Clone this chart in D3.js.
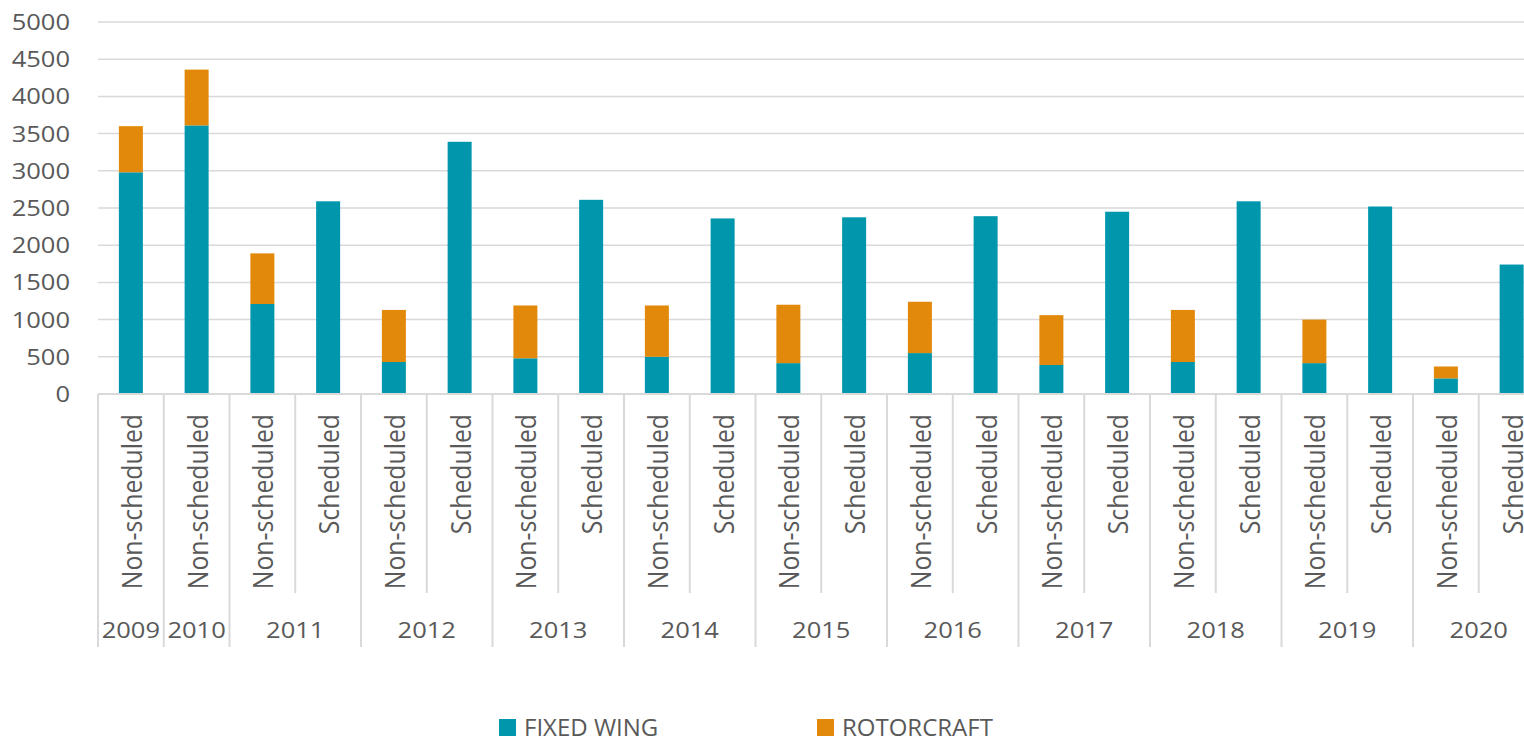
<!DOCTYPE html>
<html>
<head>
<meta charset="utf-8">
<script src="https://cdn.jsdelivr.net/npm/d3@7"></script>
<style>
  body { margin: 0; background: #fff; }
  svg { display: block; }
  text { font-family: "Open Sans", sans-serif; fill: #595959; }
</style>
</head>
<body>
<div id="chart"></div>
<script>
// categories (year, flight type) in chart order
const years = ["2009", "2010", "2011", "2011", "2012", "2012", "2013", "2013", "2014", "2014", "2015", "2015",
  "2016", "2016", "2017", "2017", "2018", "2018", "2019", "2019", "2020", "2020"];
const types = ["Non-scheduled", "Non-scheduled", "Non-scheduled", "Scheduled", "Non-scheduled", "Scheduled",
  "Non-scheduled", "Scheduled", "Non-scheduled", "Scheduled", "Non-scheduled", "Scheduled",
  "Non-scheduled", "Scheduled", "Non-scheduled", "Scheduled", "Non-scheduled", "Scheduled",
  "Non-scheduled", "Scheduled", "Non-scheduled", "Scheduled"];

const fixedWing = [2980, 3610, 1210, 2590, 430, 3390, 480, 2610, 500, 2360, 415, 2375,
  550, 2390, 390, 2450, 430, 2590, 415, 2520, 210, 1740];
const rotorcraft = [620, 750, 680, 0, 700, 0, 710, 0, 690, 0, 785, 0,
  690, 0, 670, 0, 700, 0, 585, 0, 160, 0];

const yTicks = [0, 500, 1000, 1500, 2000, 2500, 3000, 3500, 4000, 4500, 5000];
const seriesNames = ["FIXED WING", "ROTORCRAFT"];
const colors = ["#0097ad", "#e2890b"];

const width = 1524, height = 739;
const left = 98, step = 65.75;
const sx = 1.16; // text looks a bit wide in the original

const svg = d3.select("#chart").append("svg")
  .attr("width", width).attr("height", height);

const idx = d3.range(years.length);
const x = d3.scaleBand()
  .domain(idx)
  .range([left, left + step * idx.length])
  .paddingInner(0.635)
  .paddingOuter(0.3175);

const y = d3.scaleLinear()
  .domain([0, 5000])
  .range([394, 22]);

// gridlines
svg.append("g").selectAll("line")
  .data(yTicks.filter(d => d > 0))
  .enter().append("line")
  .attr("x1", left).attr("x2", width)
  .attr("y1", d => y(d)).attr("y2", d => y(d))
  .attr("stroke", "#d9d9d9").attr("stroke-width", 1.5);

// y labels
svg.append("g").selectAll("text")
  .data(yTicks)
  .enter().append("text")
  .attr("transform", d => `translate(70,${y(d)}) scale(${sx},1)`)
  .attr("dy", "0.36em")
  .attr("text-anchor", "end")
  .style("font-size", "22px")
  .text(d => d);

// stacked bars
const stackData = idx.map(i => ({ i: i, fixed: fixedWing[i], rotor: rotorcraft[i] }));
const series = d3.stack().keys(["fixed", "rotor"])(stackData);

svg.append("g").selectAll("g")
  .data(series)
  .enter().append("g")
  .attr("fill", (d, k) => colors[k])
  .selectAll("rect")
  .data(d => d.filter(p => p[1] > p[0]))
  .enter().append("rect")
  .attr("x", d => x(d.data.i))
  .attr("width", x.bandwidth())
  .attr("y", d => y(d[1]))
  .attr("height", d => y(d[0]) - y(d[1]));

// x axis line
svg.append("line")
  .attr("x1", left).attr("x2", width)
  .attr("y1", y(0)).attr("y2", y(0))
  .attr("stroke", "#d9d9d9").attr("stroke-width", 2);

// separators: long ones between years, short ones inside a year
const bounds = d3.range(years.length + 1);
svg.append("g").selectAll("line")
  .data(bounds)
  .enter().append("line")
  .attr("x1", b => left + b * step).attr("x2", b => left + b * step)
  .attr("y1", y(0))
  .attr("y2", b => (b > 0 && b < years.length && years[b] === years[b - 1]) ? 593 : 647)
  .attr("stroke", "#d9d9d9").attr("stroke-width", 2);

// type labels (rotated)
svg.append("g").selectAll("text")
  .data(idx)
  .enter().append("text")
  .attr("transform", i => `translate(${x(i) + x.bandwidth() / 2},414) scale(1.1,1) rotate(-90)`)
  .attr("dy", "0.4em")
  .attr("text-anchor", "end")
  .style("font-size", "24.8px")
  .text(i => types[i]);

// year labels, centred on their group
const yearList = Array.from(new Set(years));
svg.append("g").selectAll("text")
  .data(yearList)
  .enter().append("text")
  .attr("transform", yr => {
    const first = years.indexOf(yr), last = years.lastIndexOf(yr);
    const cx = left + (first + last + 1) / 2 * step;
    return `translate(${cx},638) scale(${sx},1)`;
  })
  .attr("text-anchor", "middle")
  .style("font-size", "22px")
  .text(yr => yr);

// legend
const legendX = [499, 817];
const lg = svg.append("g").selectAll("g")
  .data(seriesNames)
  .enter().append("g")
  .attr("transform", (d, k) => `translate(${legendX[k]},719)`);
lg.append("rect")
  .attr("width", 17).attr("height", 17)
  .attr("fill", (d, k) => colors[k]);
lg.append("text")
  .attr("x", 25).attr("y", 17)
  .style("font-size", "24px")
  .text(d => d);
</script>
</body>
</html>
